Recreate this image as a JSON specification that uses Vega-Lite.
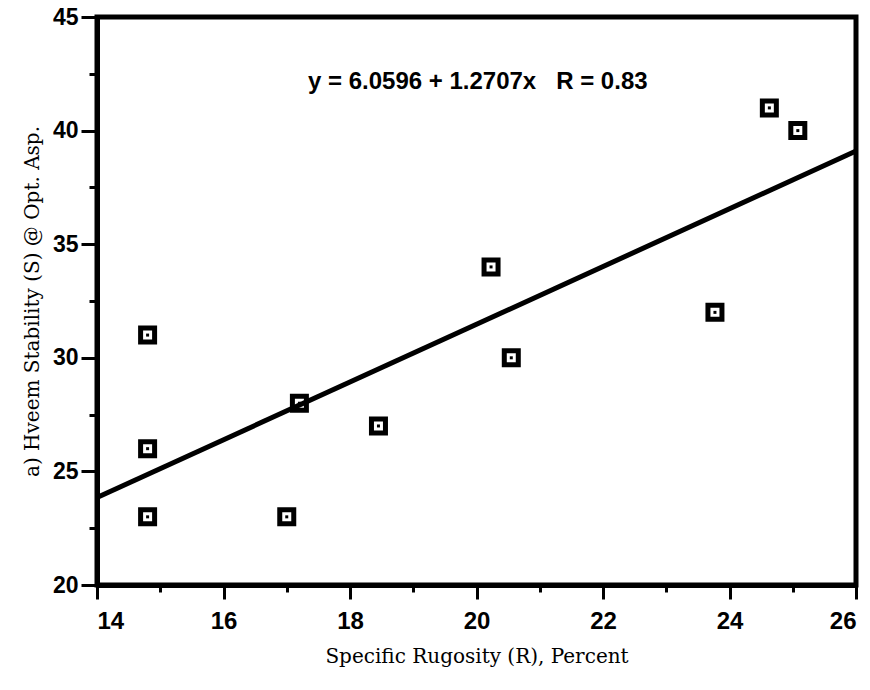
{
  "$schema": "https://vega.github.io/schema/vega-lite/v6.json",
  "autosize": "none",
  "width": 759,
  "height": 568,
  "padding": {"left": 97, "top": 17, "right": 14, "bottom": 105},
  "background": "white",
  "datasets": {
    "samples": [
      {"rugosity": 14.8, "stability": 31},
      {"rugosity": 14.8, "stability": 26},
      {"rugosity": 14.8, "stability": 23},
      {"rugosity": 17.0, "stability": 23},
      {"rugosity": 17.2, "stability": 28},
      {"rugosity": 18.45, "stability": 27},
      {"rugosity": 20.23, "stability": 34},
      {"rugosity": 20.55, "stability": 30},
      {"rugosity": 23.77, "stability": 32},
      {"rugosity": 24.63, "stability": 41},
      {"rugosity": 25.08, "stability": 40}
    ],
    "fit": [
      {"rugosity": 14, "stability": 23.85},
      {"rugosity": 26, "stability": 39.10}
    ],
    "note": [
      {"rugosity": 20.02, "stability": 42.15, "label": "y = 6.0596 + 1.2707x\u00a0\u00a0\u00a0R = 0.83"}
    ]
  },
  "encoding": {
    "x": {
      "field": "rugosity",
      "type": "quantitative",
      "scale": {"domain": [14, 26], "nice": false, "zero": false},
      "axis": {
        "title": "Specific Rugosity (R), Percent",
        "values": [14, 15, 16, 17, 18, 19, 20, 21, 22, 23, 24, 25, 26],
        "labelExpr": "datum.value % 2 == 0 ? datum.label : ''",
        "tickSize": {"condition": {"test": "datum.value % 2 == 0", "value": 14}, "value": 7},
        "labelPadding": 10,
        "titlePadding": 13
      }
    },
    "y": {
      "field": "stability",
      "type": "quantitative",
      "scale": {"domain": [20, 45], "nice": false, "zero": false},
      "axis": {
        "title": "a) Hveem Stability (S) @ Opt. Asp.",
        "values": [20, 22.5, 25, 27.5, 30, 32.5, 35, 37.5, 40, 42.5, 45],
        "labelExpr": "datum.value % 5 == 0 ? datum.label : ''",
        "tickSize": {"condition": {"test": "datum.value % 5 == 0", "value": 16}, "value": 8},
        "labelPadding": 3,
        "titlePadding": 10
      }
    }
  },
  "layer": [
    {
      "data": {"name": "fit"},
      "mark": {"type": "line", "color": "black", "strokeWidth": 5, "strokeCap": "butt"}
    },
    {
      "data": {"name": "samples"},
      "mark": {"type": "point", "shape": "square", "filled": false, "color": "black", "strokeWidth": 5, "size": 196, "opacity": 1}
    },
    {
      "data": {"name": "samples"},
      "mark": {"type": "point", "shape": "square", "filled": true, "color": "black", "size": 9, "opacity": 1}
    },
    {
      "data": {"name": "note"},
      "mark": {"type": "text", "font": "Liberation Sans", "fontWeight": "bold", "fontSize": 24, "align": "center", "baseline": "middle", "color": "black"},
      "encoding": {"text": {"field": "label"}}
    }
  ],
  "config": {
    "view": {"stroke": "black", "strokeWidth": 5},
    "axis": {
      "grid": false,
      "domainColor": "black",
      "domainWidth": 5,
      "tickColor": "black",
      "tickWidth": 3,
      "labelColor": "black",
      "labelFont": "Liberation Sans",
      "labelFontWeight": "bold",
      "labelFontSize": 24,
      "titleColor": "black",
      "titleFont": "DejaVu Serif",
      "titleFontWeight": "normal",
      "titleFontSize": 20
    },
    "axisY": {"labelFontSize": 23}
  }
}
